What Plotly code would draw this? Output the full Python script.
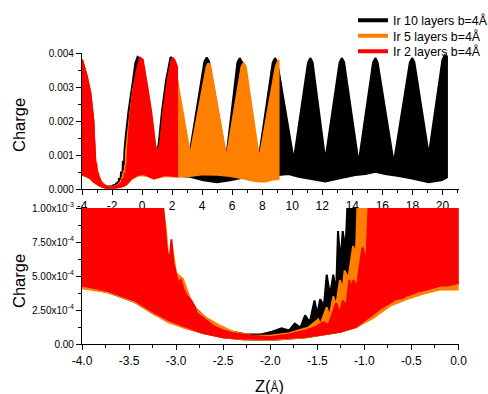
import plotly.graph_objects as go

# ---------------- data (envelopes of the dense charge oscillation) ----------------
series_names = ["Ir 10 layers b=4Å", "Ir 5 layers b=4Å", "Ir 2 layers b=4Å"]
series_colors = ["#000000", "#FF8000", "#FF0000"]

black_up_x = [-4.0, -3.7, -3.45, -3.25, -3.17, -3.12, -3.09, -3.05, -3.0, -2.92, -2.82, -2.7, -2.55, -2.4,
              -2.25, -2.1, -1.98, -1.88, -1.8, -1.74, -1.68, -1.63, -1.58, -1.53, -1.5, -1.47, -1.43, -1.40,
              -1.365, -1.33, -1.3, -1.28, -1.255, -1.23, -1.2, -1.175, -1.1, -0.91, -0.58, -0.45, -0.3, -0.15,
              0.1, 0.45, 0.8, 0.95, 1.1, 1.33, 1.6, 1.9, 2.05, 2.3, 2.6, 2.95, 3.15, 4.15, 4.3, 4.45, 5.6,
              6.35, 6.5, 6.65, 7.75, 8.7, 8.85, 9.0, 10.1,
              11.05, 11.2, 11.35, 12.2, 13.15, 13.3, 13.45, 14.42, 15.38, 15.53, 15.68, 16.76, 17.83, 17.98,
              18.13, 19.09, 20.0, 20.15, 20.3]
black_up_y = [0.0038, 0.0033, 0.0028, 0.0020, 0.0012, 0.00066, 0.0005, 0.00045, 0.00042, 0.00037, 0.00028,
              0.0002, 0.00013, 0.00009, 0.00007, 0.00007, 0.00009, 0.000115, 0.0001, 0.00015, 0.00012,
              0.00021, 0.00016, 0.00032, 0.00022, 0.00033, 0.00028, 0.00051, 0.00036, 0.00051, 0.00038,
              0.00083, 0.0006, 0.00083, 0.0007, 0.0011, 0.0015, 0.00227, 0.00326, 0.0037, 0.00388, 0.00382,
              0.0034, 0.0025, 0.0014, 0.00105, 0.0013, 0.0023, 0.0032, 0.00388, 0.00382, 0.0033, 0.0022,
              0.0012, 0.00100, 0.00375, 0.00387, 0.00376, 0.00090, 0.00372,
              0.00385, 0.00373, 0.00085, 0.00372, 0.00385, 0.00373, 0.00085, 0.00372, 0.00385, 0.00373,
              0.00085, 0.00372, 0.00385, 0.00373, 0.00076, 0.00372, 0.00385, 0.00373, 0.00076, 0.00372,
              0.00385, 0.00373, 0.00100, 0.00380, 0.00393, 0.00390]
black_lo_x = [-4.0, -3.72, -3.44, -3.23, -3.08, -2.91, -2.71, -2.5, -2.3, -2.0, -1.62, -1.26, -1.09, -0.91,
              -0.73, -0.55, -0.38, -0.2, 0.0, 0.4, 0.8, 1.5, 2.3, 3.2, 4.09, 4.98, 5.87, 6.76, 7.8, 8.6, 9.09,
              9.75, 10.42, 11.09, 12.2, 13.09, 14.2, 14.87, 15.53, 16.2, 17.09, 17.98, 19.09, 19.98, 20.3]
black_lo_y = [0.00042, 0.00038, 0.00031, 0.00022, 0.00017, 0.00012, 0.00008, 0.00005, 0.000035, 0.00003,
              0.00005, 0.00009, 0.000125, 0.0002, 0.0003, 0.00034, 0.00038, 0.00042, 0.00044, 0.0004,
              0.00033, 0.0004, 0.00039, 0.00036, 0.00026, 0.0002, 0.00026, 0.00034, 0.00036, 0.00037,
              0.00041, 0.00044, 0.00036, 0.00031, 0.00022, 0.00031, 0.00041, 0.00044, 0.00051, 0.00044,
              0.00038, 0.00031, 0.0002, 0.00026, 0.00034]

orange_up_x = [-4.0, -3.7, -3.45, -3.25, -3.16, -3.11, -3.08, -3.04, -3.0, -2.93, -2.85, -2.78, -2.7, -2.55,
               -2.4, -2.2, -2.0, -1.8, -1.6, -1.49, -1.47, -1.4, -1.37, -1.33, -1.3, -1.26, -1.23, -1.21,
               -1.17, -1.12, -1.09, -1.07, -0.85, -0.6, -0.35, -0.1, 0.05, 0.3, 0.6, 0.87, 0.98, 1.22, 1.45,
               1.73, 1.98, 2.12, 3.2, 4.3, 4.42, 4.55, 5.62, 6.62, 6.76, 6.9, 7.8, 8.9, 9.09]
orange_up_y = [0.0038, 0.00335, 0.00285, 0.00205, 0.0011, 0.00085, 0.0006, 0.0007, 0.00052, 0.00048,
               0.00033, 0.00025, 0.0002, 0.00014, 0.00009, 0.00006, 0.00006, 0.00008, 0.00012, 0.00018,
               0.00014, 0.00027, 0.0002, 0.00035, 0.00028, 0.00047, 0.0004, 0.00054, 0.00048, 0.00072,
               0.00065, 0.0011, 0.0020, 0.0029, 0.0034, 0.0037, 0.00368, 0.0031, 0.0022, 0.0013, 0.00100,
               0.0013, 0.0023, 0.0032, 0.0038, 0.00375, 0.00100, 0.0036, 0.0037, 0.0036, 0.00092, 0.0036,
               0.0037, 0.0036, 0.00088, 0.0036, 0.0038]
orange_lo_x = [-4.0, -3.72, -3.44, -3.23, -3.08, -2.91, -2.71, -2.5, -2.3, -2.0, -1.62, -1.26, -1.09, -0.91,
               -0.73, -0.55, -0.38, -0.2, 0.0, 0.4, 0.8, 1.5, 2.31, 3.2, 4.09, 5.0, 5.87, 6.76, 7.4, 7.87,
               8.2, 8.64, 9.09]
orange_lo_y = [0.00041, 0.00038, 0.00031, 0.00022, 0.00016, 0.00012, 0.00008, 0.00005, 0.000035, 0.00003,
               0.00005, 0.00009, 0.000124, 0.00019, 0.00028, 0.00033, 0.00037, 0.0004, 0.0004, 0.00038,
               0.0003, 0.00038, 0.00036, 0.00038, 0.00043, 0.00042, 0.00038, 0.00031, 0.00024, 0.00022,
               0.00022, 0.00027, 0.0003]

red_up_x = [-4.0, -3.7, -3.45, -3.25, -3.15, -3.1, -3.07, -3.05, -3.03, -3.01, -2.98, -2.95, -2.92, -2.89,
            -2.84, -2.8, -2.78, -2.71, -2.6, -2.5, -2.4, -2.2, -2.0, -1.8, -1.62, -1.5, -1.44, -1.38, -1.3,
            -1.26, -1.23, -1.19, -1.16, -1.13, -1.12, -1.08, -1.05, -1.02, -0.98, -0.95, -0.8, -0.58, -0.35,
            -0.13, 0.05, 0.27, 0.6, 0.87, 0.98, 1.2, 1.42, 1.71, 2.02, 2.15, 2.33]
red_up_y = [0.0038, 0.00335, 0.00285, 0.00205, 0.0011, 0.0007, 0.0006, 0.00077, 0.0006, 0.00054, 0.00045,
            0.00047, 0.0004, 0.00036, 0.00032, 0.00027, 0.000225, 0.00019, 0.00013, 0.0001, 0.00008, 0.00006,
            0.00005, 0.00007, 0.0001, 0.00013, 0.00016, 0.00014, 0.0003, 0.00022, 0.00032, 0.00028, 0.00047,
            0.0004, 0.00047, 0.00042, 0.00057, 0.00071, 0.0006, 0.0011, 0.0021, 0.0029, 0.0035, 0.00386,
            0.0038, 0.0032, 0.0023, 0.0013, 0.00100, 0.0013, 0.0023, 0.0032, 0.00386, 0.0038, 0.0036]
red_lo_x = [-4.0, -3.72, -3.44, -3.23, -3.08, -2.91, -2.71, -2.5, -2.3, -2.0, -1.62, -1.26, -1.09, -0.944,
            -0.85, -0.84, -0.83, -0.714, -0.67, -0.66, -0.65, -0.59, -0.545, -0.54, -0.53, -0.485, -0.42,
            -0.414, -0.405, -0.34, -0.295, -0.29, -0.285, -0.237, -0.185, -0.18, -0.175, -0.113, -0.065,
            -0.06, -0.055, 0.0, 0.3, 0.76, 1.53, 2.33]
red_lo_y = [0.00043, 0.00039, 0.00032, 0.00023, 0.000176, 0.00013, 0.00008, 0.00005, 0.00004, 0.000037,
            0.000054, 0.00009, 0.000127, 0.0002, 0.00025, 0.00036, 0.00026, 0.00031, 0.00033, 0.00041,
            0.00033, 0.00034, 0.00036, 0.00045, 0.00036, 0.00037, 0.00039, 0.00047, 0.00039, 0.0004, 0.00041,
            0.0005, 0.00041, 0.00042, 0.00043, 0.00054, 0.00043, 0.00043, 0.00044, 0.00058, 0.00044,
            0.00045, 0.00041, 0.00031, 0.00041, 0.00038]

top_xticks = [-4, -2, 0, 2, 4, 6, 8, 10, 12, 14, 16, 18, 20]
top_yticks = [0.0, 0.001, 0.002, 0.003, 0.004]
top_yticktext = ["0.000", "0.001", "0.002", "0.003", "0.004"]
bot_xticks = [-4.0, -3.5, -3.0, -2.5, -2.0, -1.5, -1.0, -0.5, 0.0]
bot_yticks = [0.0, 0.00025, 0.0005, 0.00075, 0.001]
bot_yticktext = ["0.00", "2.50x10<sup>-4</sup>", "5.00x10<sup>-4</sup>", "7.50x10<sup>-4</sup>",
                 "1.00x10<sup>-3</sup>"]

series = [
    (black_up_x, black_up_y, black_lo_x, black_lo_y),
    (orange_up_x, orange_up_y, orange_lo_x, orange_lo_y),
    (red_up_x, red_up_y, red_lo_x, red_lo_y),
]

# ---------------- figure ----------------
W, H = 488, 394
FONT = "Arial, Liberation Sans, sans-serif"
fig = go.Figure()

for (ux, uy, lx, ly), col in zip(series, series_colors):
    px_ = list(ux) + list(lx[::-1])
    py_ = list(uy) + list(ly[::-1])
    for xa, ya in (("x", "y"), ("x2", "y2")):
        fig.add_trace(go.Scatter(x=px_, y=py_, mode="lines", fill="toself", fillcolor=col,
                                 line=dict(color=col, width=2, simplify=False), xaxis=xa, yaxis=ya,
                                 showlegend=False, hoverinfo="skip"))

legend_ids = ["legend", "legend2", "legend3"]
for name, col, lid in zip(series_names, series_colors, legend_ids):
    fig.add_trace(go.Scatter(x=[None], y=[None], mode="lines", name=name,
                             line=dict(color=col, width=4), legend=lid, xaxis="x", yaxis="y"))

def px2x(p):
    return p / W

def py2y(p):
    return 1 - p / H

xdom = [px2x(82), px2x(458.5)]
axis_common = dict(showline=True, linecolor="black", linewidth=1.3, ticks="outside", ticklen=5,
                   tickwidth=1, tickcolor="black", showgrid=False, zeroline=False,
                   tickfont=dict(family=FONT, size=12, color="black"))

fig.update_layout(
    width=W, height=H, margin=dict(l=0, r=0, t=0, b=0, autoexpand=False),
    paper_bgcolor="white", plot_bgcolor="white",
    xaxis=dict(domain=xdom, range=[-4, 21.07], anchor="y", tickvals=top_xticks,
               ticktext=[str(v) for v in top_xticks],
               minor=dict(dtick=1, ticks="outside", ticklen=3, tickcolor="black"), **axis_common),
    yaxis=dict(domain=[py2y(189), py2y(53)], range=[0, 0.004], anchor="x", tickvals=top_yticks,
               ticktext=top_yticktext,
               minor=dict(dtick=0.0005, ticks="outside", ticklen=3, tickcolor="black"),
               **{**axis_common, "tickfont": dict(family=FONT, size=10, color="black")}),
    xaxis2=dict(domain=xdom, range=[-4, 0], anchor="y2", tickvals=bot_xticks,
                ticktext=["%.1f" % v for v in bot_xticks],
                minor=dict(dtick=0.25, ticks="outside", ticklen=3, tickcolor="black"), **axis_common),
    yaxis2=dict(domain=[py2y(344), py2y(208)], range=[0, 0.001], anchor="x2", tickvals=bot_yticks,
                ticktext=bot_yticktext,
                minor=dict(dtick=0.000125, ticks="outside", ticklen=3, tickcolor="black"),
                **{**axis_common, "tickfont": dict(family=FONT, size=10, color="black")}),
    showlegend=True,
)

leg_common = dict(xref="paper", yref="paper", xanchor="left", yanchor="middle", bgcolor="rgba(0,0,0,0)",
                  borderwidth=0, font=dict(family=FONT, size=12.4, color="black"),
                  itemwidth=30, tracegroupgap=0)
fig.update_layout(
    legend=dict(x=px2x(353), y=py2y(20.7), **leg_common),
    legend2=dict(x=px2x(353), y=py2y(36.2), **leg_common),
    legend3=dict(x=px2x(353), y=py2y(51.7), **leg_common),
)

ann = dict(xref="paper", yref="paper", showarrow=False, font=dict(family=FONT, size=16.5, color="black"),
           xanchor="center", yanchor="middle")
fig.add_annotation(x=px2x(19), y=py2y(125), text="Charge", textangle=-90, **ann)
fig.add_annotation(x=px2x(19), y=py2y(281), text="Charge", textangle=-90, **ann)
fig.add_annotation(x=px2x(269), y=py2y(386), text="Z(<span style='font-size:12px'>Å</span>)", **ann)

fig.write_html("out.html")
